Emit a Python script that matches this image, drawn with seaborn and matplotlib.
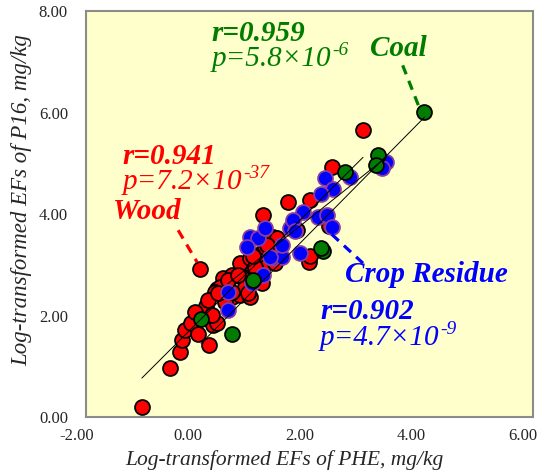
import numpy as np
import pandas as pd
import matplotlib
matplotlib.use("Agg")
import matplotlib.pyplot as plt
import matplotlib.transforms as mtransforms
import seaborn as sns

# log-transformed EFs (PHE on x, P16 on y)
wood_x = [-1.00, -0.50, -0.32, -0.28, -0.23, -0.01, -0.12, 0.00, 0.20, 0.27,
          0.34, 0.15, -0.05, 0.34, 0.45, 0.61, 0.75, 0.93, 0.88, 1.06,
          0.81, 1.17, 1.33, 1.35, 1.99, 1.77, 0.04, 0.61, 0.75, 0.93,
          1.06, 1.20, 1.29, 0.25, 0.40, 0.31, 0.49, 1.15, 0.84, 1.02,
          0.18, 0.61, 1.38, 1.42, 1.24, 0.54, 0.72, 2.40, 2.01, 1.61,
          1.17, 2.35, 2.01, 0.99, 2.96, 0.36, 0.90]
wood_y = [0.20, 0.97, 1.28, 1.52, 1.71, 2.01, 1.85, 1.64, 1.42, 1.81,
          1.85, 2.19, 2.07, 2.52, 2.74, 2.36, 2.40, 2.36, 3.03, 2.94,
          2.74, 2.96, 3.35, 3.55, 3.05, 3.68, 2.92, 2.80, 3.03, 3.13,
          3.19, 3.35, 3.49, 2.01, 2.56, 2.46, 2.27, 2.64, 2.56, 2.96,
          2.31, 2.46, 3.03, 3.53, 3.39, 2.70, 2.80, 4.93, 4.28, 4.24,
          3.98, 3.76, 3.17, 3.17, 5.66, 2.44, 2.44]

crop_x = [0.54, 0.54, 0.97, 1.33, 1.83, 0.93, 1.08, 1.20, 1.65, 1.51,
          2.28, 2.42, 2.20, 1.88, 1.70, 2.15, 2.31, 2.40, 1.74, 0.88,
          1.29, 2.72, 3.38, 3.30, 1.17, 1.51]
crop_y = [2.46, 2.11, 2.64, 3.13, 3.23, 3.55, 3.53, 3.72, 3.72, 3.15,
          4.71, 4.49, 4.39, 4.04, 3.88, 3.94, 3.98, 3.74, 3.66, 3.35,
          3.15, 4.73, 5.02, 4.91, 2.80, 3.39]

coal_x = [4.06, 3.22, 3.19, 2.63, 2.24, 2.20, 0.99, 0.06, 0.61]
coal_y = [6.01, 5.16, 4.97, 4.83, 3.27, 3.33, 2.70, 1.93, 1.64]

x_ticks = [-2, 0, 2, 4, 6]
y_ticks = [0, 2, 4, 6, 8]

RED = "#ff0000"
BLUE = "#0000ff"
GREEN = "#007d00"
SERIF = "Liberation Serif"

df = pd.concat([
    pd.DataFrame({"phe": wood_x, "p16": wood_y, "source": "Wood"}),
    pd.DataFrame({"phe": crop_x, "p16": crop_y, "source": "Crop Residue"}),
    pd.DataFrame({"phe": coal_x, "p16": coal_y, "source": "Coal"}),
])

sns.set_style("white")
plt.rcParams["font.family"] = [SERIF, "DejaVu Serif"]

fig = plt.figure(figsize=(5.42, 4.75), dpi=100)
ax = fig.add_axes([0.1587, 0.1221, 0.8243, 0.8547])
ax.set_facecolor("#ffffcc")

styles = {"Wood": (RED, "black", 3), "Crop Residue": (BLUE, "#8a3c9c", 4),
          "Coal": (GREEN, "black", 5)}
for src, (fc, ec, z) in styles.items():
    sub = df[df["source"] == src]
    sns.scatterplot(data=sub, x="phe", y="p16", ax=ax, s=115, color=fc,
                    edgecolor=ec, linewidth=1.3, zorder=z, legend=False)

for src in styles:
    sub = df[df["source"] == src]
    sns.regplot(data=sub, x="phe", y="p16", ax=ax, scatter=False, ci=None,
                truncate=True, line_kws=dict(color="black", lw=0.7, zorder=6))

ax.set_xlim(-2, 6)
ax.set_ylim(0, 8)
ax.set_xticks(x_ticks)
ax.set_yticks(y_ticks)
ax.set_xticklabels([f"{v:.2f}" for v in x_ticks])
ax.set_yticklabels([f"{v:.2f}" for v in y_ticks])
ax.tick_params(length=0, labelsize=12)
ax.tick_params(axis="x", pad=8)
ax.tick_params(axis="y", pad=13)
# x tick labels sit a little left of their positions in the original
shift = mtransforms.ScaledTranslation(-7 / 72, 0, fig.dpi_scale_trans)
for lbl in ax.get_xticklabels():
    lbl.set_transform(lbl.get_transform() + shift)
for sp in ax.spines.values():
    sp.set_color("#8c8c8c")
    sp.set_linewidth(1.5)

ax.set_xlabel("Log-transformed EFs of PHE, mg/kg", style="italic", fontsize=15.5)
ax.set_ylabel("Log-transformed EFs of P16, mg/kg", style="italic", fontsize=16.5)
ax.xaxis.set_label_coords(0.445, -0.082)
ax.yaxis.set_label_coords(-0.12, 0.535)


def stat_label(x, y, r, base, exp, color):
    ax.text(x, y, r, color=color, fontsize=21, style="italic", weight="bold",
            va="center", ha="left", zorder=8)
    t = ax.text(x, y - 0.51, base, color=color, fontsize=21, style="italic",
                va="center", ha="left", zorder=8)
    ax.annotate(exp, xy=(1, 1), xycoords=t, xytext=(0.5, -3),
                textcoords="offset points", color=color, fontsize=14,
                style="italic", va="center", ha="left", zorder=8)


stat_label(0.25, 7.56, "r=0.959", "p=5.8×10", "-6", GREEN)
stat_label(-1.34, 5.14, "r=0.941", "p=7.2×10", "-37", RED)
stat_label(2.19, 2.07, "r=0.902", "p=4.7×10", "-9", BLUE)

lab = dict(fontsize=21, style="italic", weight="bold", va="center", ha="left", zorder=8)
ax.text(3.08, 7.27, "Coal", color=GREEN, **lab)
ax.text(-1.52, 4.05, "Wood", color=RED, **lab)
ax.text(2.63, 2.81, "Crop Residue", color=BLUE, **lab)

dash = dict(lw=2.3, ls=(0, (3, 2.2)), zorder=7)
ax.plot([3.67, 3.97], [6.93, 6.09], color=GREEN, **dash)
ax.plot([-0.35, -0.01], [3.68, 3.05], color=RED, **dash)
ax.plot([2.40, 2.96], [3.60, 3.03], color=BLUE, **dash)

fig.savefig("out.png", dpi=100)
